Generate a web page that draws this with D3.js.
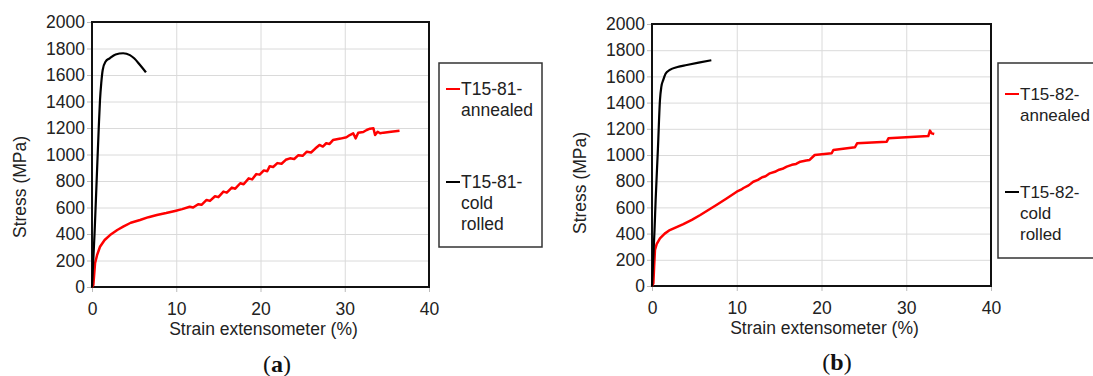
<!DOCTYPE html>
<html>
<head>
<meta charset="utf-8">
<script src="https://cdn.jsdelivr.net/npm/d3@7"></script>
<style>
  body { margin: 0; background: #fff; }
  svg { display: block; }
  text { font-family: "Liberation Sans", Arial, Helvetica, sans-serif; fill: #222; }
  .caption { font-family: "Liberation Serif", "Times New Roman", serif; fill: #111; }
</style>
</head>
<body>
<div id="chart"></div>
<script>
// stress-strain data: [strain %, stress MPa]
const annealed81 = [[0,0],[0.16,15],[0.36,179],[0.6,240],[0.95,304],[1.5,355],[2.14,392],[3.0,430],[3.7,455],[4.6,485],[5.7,506],[6.7,527],[7.7,543],[8.8,558],[9.85,574],[10.7,588],[11.6,606],[12.0,600],[12.6,625],[13.0,620],[13.6,657],[14.0,650],[14.6,685],[15.0,678],[15.6,720],[16.0,712],[16.6,750],[17.0,742],[17.6,783],[18.0,775],[18.6,820],[19.0,812],[19.5,852],[19.9,848],[20.4,880],[20.8,874],[21.1,912],[21.5,906],[22.0,935],[22.5,930],[23.0,960],[23.5,971],[24.0,966],[24.5,995],[25.0,990],[25.5,1021],[26.0,1015],[26.5,1045],[27.0,1072],[27.4,1060],[27.8,1085],[28.2,1080],[28.6,1109],[29.5,1120],[30.2,1130],[30.6,1147],[31.0,1160],[31.3,1122],[31.6,1165],[32.2,1170],[32.6,1185],[33.0,1195],[33.4,1198],[33.6,1147],[33.9,1172],[34.2,1160],[34.6,1165],[35.5,1172],[36.5,1180]];
const coldRolled81 = [[0,0],[0.3,400],[0.55,800],[0.8,1200],[0.95,1411],[1.1,1540],[1.27,1638],[1.6,1700],[2.1,1726],[2.8,1755],[3.7,1764],[4.5,1750],[5.0,1726],[5.7,1675],[6.4,1620]];
const annealed82 = [[0,0],[0.16,20],[0.25,150],[0.35,275],[0.55,320],[0.94,364],[1.5,400],[2.1,427],[2.9,450],[3.7,473],[4.7,505],[5.7,542],[6.6,578],[7.6,618],[8.8,668],[10.0,720],[10.5,735],[10.8,748],[11.4,768],[11.95,796],[12.5,810],[13.0,830],[13.4,838],[13.9,860],[14.5,872],[15.0,888],[15.4,895],[15.9,911],[16.5,925],[17.0,932],[17.5,949],[18.2,958],[18.6,962],[19.2,1000],[21.2,1013],[21.4,1038],[23.95,1059],[24.2,1089],[27.7,1102],[27.9,1127],[32.6,1145],[32.8,1186],[33.0,1165],[33.3,1160]];
const coldRolled82 = [[0,0],[0.3,430],[0.43,656],[0.7,1050],[0.94,1420],[1.1,1520],[1.33,1573],[1.6,1620],[2.1,1649],[3.0,1672],[4.1,1687],[5.5,1705],[7.0,1723]];

const xTicks = [0, 10, 20, 30, 40];
const yTicks = [0, 200, 400, 600, 800, 1000, 1200, 1400, 1600, 1800, 2000];
const legendA = [["T15-81-", "annealed"], ["T15-81-", "cold", "rolled"]];
const legendB = [["T15-82-", "annealed"], ["T15-82-", "cold", "rolled"]];
const seriesColors = ["#ff0000", "#000000"];

const svg = d3.select("#chart").append("svg")
  .attr("width", 1093)
  .attr("height", 376);

function drawPanel(p) {
  const x = d3.scaleLinear().domain([0, 40]).range([p.left, p.right]);
  const y = d3.scaleLinear().domain([0, 2000]).range([p.bottom, p.top]);
  const g = svg.append("g");

  // grid
  g.append("g")
    .attr("transform", `translate(0,${p.bottom})`)
    .call(d3.axisBottom(x).tickValues(xTicks).tickSize(-(p.bottom - p.top)).tickFormat(""))
    .call(a => a.select(".domain").remove())
    .selectAll("line").attr("stroke", "#dadada");
  g.append("g")
    .attr("transform", `translate(${p.left},0)`)
    .call(d3.axisLeft(y).tickValues(yTicks).tickSize(-(p.right - p.left)).tickFormat(""))
    .call(a => a.select(".domain").remove())
    .selectAll("line").attr("stroke", "#dadada");

  // axes
  const xa = g.append("g")
    .attr("transform", `translate(0,${p.bottom})`)
    .call(d3.axisBottom(x).tickValues(xTicks).tickSize(5).tickPadding(11).tickFormat(d3.format("d")));
  const ya = g.append("g")
    .attr("transform", `translate(${p.left},0)`)
    .call(d3.axisLeft(y).tickValues(yTicks).tickSize(5).tickPadding(2).tickFormat(d3.format("d")));
  [xa, ya].forEach(a => {
    a.select(".domain").remove();
    a.selectAll("line").attr("stroke", "#bbb");
    a.selectAll("text").attr("font-size", 17.5).attr("fill", "#222")
      .attr("font-family", "Liberation Sans, Arial, sans-serif");
  });

  // plot frame
  g.append("rect")
    .attr("x", p.left).attr("y", p.top)
    .attr("width", p.right - p.left).attr("height", p.bottom - p.top)
    .attr("fill", "none").attr("stroke", "#111").attr("stroke-width", 2);

  const line = d3.line().x(d => x(d[0])).y(d => y(d[1]));
  const smooth = d3.line().x(d => x(d[0])).y(d => y(d[1])).curve(d3.curveMonotoneX);

  g.append("path").datum(p.annealed)
    .attr("d", line).attr("fill", "none")
    .attr("stroke", seriesColors[0]).attr("stroke-width", 2.5).attr("stroke-linejoin", "round");
  g.append("path").datum(p.cold)
    .attr("d", smooth).attr("fill", "none")
    .attr("stroke", seriesColors[1]).attr("stroke-width", 2.2);

  // axis titles
  g.append("text")
    .attr("x", (p.left + p.right) / 2 + 3).attr("y", p.bottom + 48)
    .attr("text-anchor", "middle").attr("font-size", 17.5)
    .text("Strain extensometer (%)");
  g.append("text")
    .attr("transform", `translate(${p.left - 66},${p.yTitleMid}) rotate(-90)`)
    .attr("text-anchor", "middle").attr("font-size", 17.5)
    .text("Stress (MPa)");

  // legend
  const lg = g.append("g");
  lg.append("rect")
    .attr("x", p.legend.x).attr("y", p.legend.y)
    .attr("width", p.legend.w).attr("height", p.legend.h)
    .attr("fill", "#fff").attr("stroke", "#333").attr("stroke-width", 1.5);
  p.legendText.forEach((lines, i) => {
    const base = p.legend.rows[i];
    lg.append("line")
      .attr("x1", p.legend.x + 7).attr("x2", p.legend.x + 21)
      .attr("y1", base - 6).attr("y2", base - 6)
      .attr("stroke", seriesColors[i]).attr("stroke-width", 2);
    const t = lg.append("text").attr("font-size", p.legend.font);
    lines.forEach((s, k) => {
      t.append("tspan").attr("x", p.legend.x + 22).attr("y", base + k * 21).text(s);
    });
  });

  // caption
  const cap = g.append("text").attr("class", "caption")
    .attr("x", p.captionX).attr("y", p.captionY)
    .attr("text-anchor", "middle").attr("font-size", 24);
  cap.append("tspan").text("(");
  cap.append("tspan").attr("font-weight", "bold").text(p.letter);
  cap.append("tspan").text(")");
}

drawPanel({
  left: 92, right: 429, top: 22, bottom: 287, yTitleMid: 187,
  annealed: annealed81, cold: coldRolled81, legendText: legendA,
  legend: { x: 439, y: 63, w: 103, h: 184, rows: [95, 188], font: 17.5 },
  letter: "a", captionX: 277, captionY: 372
});
drawPanel({
  left: 652, right: 991, top: 24, bottom: 286, yTitleMid: 183,
  annealed: annealed82, cold: coldRolled82, legendText: legendB,
  legend: { x: 998, y: 63, w: 110, h: 195, rows: [100, 198], font: 17 },
  letter: "b", captionX: 837, captionY: 370
});
</script>
</body>
</html>
